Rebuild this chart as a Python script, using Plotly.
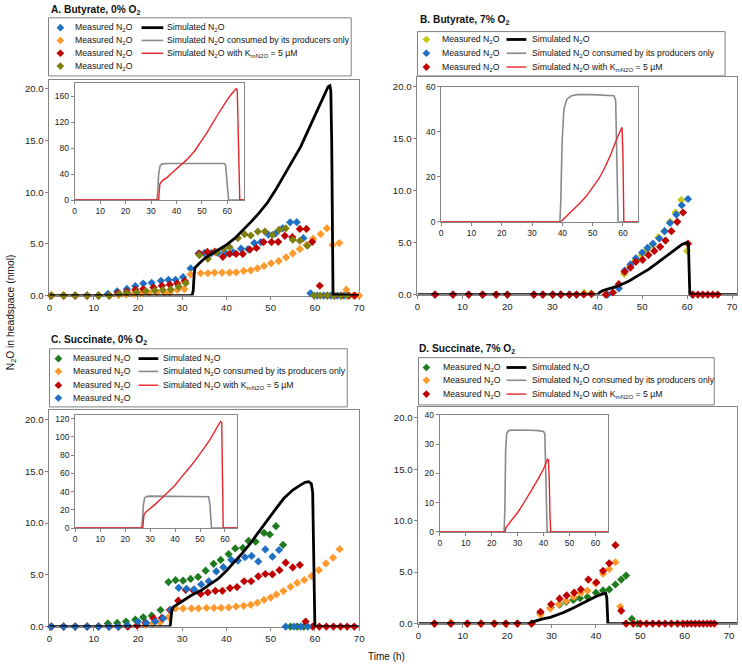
import plotly.graph_objects as go

W, H = 742, 668
FONT = "Liberation Sans, Arial, sans-serif"

# ---------------- colours ----------------
BLUE = "#1f6fc4"
ORANGE = "#ff9a2e"
DRED = "#c00000"
OLIVE = "#808010"
YELLOW = "#c8c810"
GREEN = "#1e7b1e"
GRAY = "#8a8a8a"
RED = "#e8242a"

# ================= Panel A: Butyrate, 0% O2 =================
A_blue_t = [0.4, 3.2, 5.8, 8.5, 11.1, 13.2, 15.3, 17.5, 19.4, 21.2, 23.1, 25.2, 26.9, 28.5, 30.2, 31.9, 33.7, 35.0, 36.6, 38.1,
            39.8, 41.5, 43.3, 44.9, 46.3, 47.8, 49.5, 51.1, 52.7, 54.4, 55.9, 57.4, 59.0, 60.5, 62.0, 63.6, 65.1, 66.6]
A_blue_y = [0, 0, 0, 0, 0, 0.16, 0.41, 0.64, 0.92, 1.17, 1.24, 1.43, 1.52, 1.52, 1.78, 2.63, 4.06, 4.1, 4.1, 4.13,
            4.1, 4.2, 4.54, 4.5, 5.08, 5.17, 5.9, 6.0, 6.5, 7.08, 7.1, 5.55, 0.22, 0, 0, 0, 0, 0]
A_orange_t = [0.4, 3.2, 5.8, 8.5, 11.1, 13.6, 15.6, 17.3, 19.0, 20.8, 22.5, 24.3, 26.0, 27.2, 28.9, 30.5, 31.9, 34.2, 35.8, 37.3,
              39.0, 40.7, 42.2, 43.9, 45.5, 47.0, 48.5, 50.1, 51.8, 53.5, 55.0, 56.6, 58.1, 59.6, 61.3, 62.7, 64.0, 65.5, 67.1, 68.7, 70.0]
A_orange_y = [0, 0, 0, 0, 0, 0, 0.05, 0.1, 0.15, 0.2, 0.25, 0.3, 0.3, 0.32, 0.54, 0.62, 2.06, 2.16, 2.16, 2.22,
              2.22, 2.22, 2.25, 2.38, 2.44, 2.63, 2.86, 3.12, 3.34, 3.7, 4.08, 4.5, 4.9, 5.5, 5.95, 6.5, 4.9, 5.08, 0.57, 0, 0]
A_red_t = [0.4, 3.2, 5.8, 8.5, 11.1, 13.5, 15.5, 17.5, 19.4, 21.2, 23.5, 25.4, 27.2, 28.9, 30.6, 33.9, 35.7, 37.4, 39.2, 40.7,
           42.2, 43.7, 45.3, 46.8, 48.4, 50.2, 51.7, 53.2, 54.9, 56.6, 58.1, 59.4, 61.1, 62.8, 64.4, 66.0, 67.7, 69.0]
A_red_y = [0, 0, 0, 0, 0, 0, 0.25, 0.38, 0.57, 0.63, 0.79, 0.95, 1.05, 1.17, 1.4, 4.06, 4.22, 4.25, 3.75, 4.03,
           4.03, 4.03, 4.45, 4.6, 5.17, 5.17, 5.2, 5.78, 5.65, 6.45, 6.45, 5.2, 0.95, 0, 0, 0, 0, 0]
A_olive_t = [0.4, 3.2, 5.8, 8.5, 11.1, 13.5, 15.8, 17.5, 19.7, 21.8, 23.8, 25.6, 27.4, 29.2, 30.8, 33.9, 35.8, 37.7, 39.3, 40.7,
             42.6, 44.1, 45.5, 47.1, 48.7, 50.4, 51.9, 53.4, 55.0, 56.6, 58.3, 59.8, 61.2, 62.8, 64.3, 65.8, 67.3]
A_olive_y = [0, 0, 0, 0, 0, 0, 0.16, 0.25, 0.32, 0.44, 0.48, 0.54, 0.6, 0.86, 1.2, 3.9, 3.55, 4.19, 4.5, 4.7,
             5.56, 5.94, 5.81, 6.19, 6.19, 5.87, 6.35, 6.5, 5.4, 5.3, 4.83, 0, 0, 0, 0, 0, 0]
A_sim_t = [0, 31.8, 32.3, 32.5, 32.7, 32.9, 33.6, 35.1, 36.5, 38.1, 40.0, 41.8, 43.7, 45.5, 47.4, 49.3, 51.1, 53.0, 54.9, 56.8,
           58.6, 60.5, 61.5, 62.4, 63.0, 63.4, 63.6, 63.8, 63.95, 64.1, 70]
A_sim_y = [0, 0, 0.1, 0.5, 2.0, 2.7, 3.0, 3.6, 4.0, 4.4, 4.9, 5.5, 6.3, 7.1, 8.0, 9.0, 10.2, 11.6, 13.0, 14.4,
           16.1, 17.9, 18.9, 19.8, 20.2, 20.3, 19.8, 15.0, 5.0, 0.1, 0]
A_prod_t = [0, 32.3, 32.6, 33.0, 33.5, 34.2, 36.0, 45.0, 55.0, 58.8, 59.3, 59.7, 60.1, 60.5, 66.6]
A_prod_y = [0, 0, 10, 40, 52, 55.5, 56.5, 56.8, 56.8, 56.5, 54, 35, 5, 0, 0]
A_km_t = [0, 33.0, 33.2, 33.5, 34.5, 36.4, 38.5, 41.6, 44.0, 47.0, 49.4, 52.0, 55.8, 58.0, 60.0, 61.5, 62.8, 63.5, 63.9, 64.2,
          64.5, 64.9, 66.6]
A_km_y = [0, 0, 12, 25, 30, 35, 43, 53, 62, 75, 89, 104, 129, 143, 155, 163, 170, 172, 170, 120, 40, 0, 0]

# ================= Panel B: Butyrate, 7% O2 =================
B_early_t = [3.9, 7.9, 11.4, 14.5, 17.5, 20.0, 25.9, 27.9, 30.1, 31.9, 33.8, 35.4]
B_yellow_t = B_early_t + [37.1, 38.7, 46.0, 47.3, 48.5, 49.9, 51.1, 52.4, 53.6, 54.9, 56.2, 57.4, 58.7, 60.0, 61.2]
B_yellow_y = [0] * 12 + [0.15, 0.1, 2.0, 2.7, 3.3, 3.8, 4.3, 4.8, 5.5, 6.1, 7.0, 7.9, 9.1, 4.2, 0]
B_blue_t = B_early_t + [42.3, 44.8, 46.1, 47.4, 48.6, 50.0, 51.2, 52.4, 53.8, 55.0, 56.2, 57.6, 58.8, 60.2, 61.2]
B_blue_y = [0] * 12 + [0, 0.6, 2.3, 2.9, 3.5, 4.05, 4.5, 4.9, 5.4, 6.1, 6.9, 7.7, 8.6, 9.2, 0]
B_red_t = B_early_t + [37.0, 38.7, 41.9, 43.5, 44.8, 46.1, 47.4, 48.6, 50.1, 51.4, 52.7, 54.0, 55.2, 56.5, 57.8, 59.1,
                       60.2, 61.3, 62.4, 63.5, 64.6, 65.7, 66.8]
B_red_y = [0] * 12 + [0.02, 0.05, 0, 0.2, 1.0, 2.2, 2.6, 3.15, 3.35, 3.8, 4.2, 4.6, 5.2, 6.1, 7.0, 7.9,
                      4.9, 0, 0, 0, 0, 0, 0]
B_sim_t = [0, 40.2, 40.5, 41.3, 42.5, 44.2, 46.0, 47.2, 48.5, 50.1, 51.5, 53.0, 54.5, 56.0, 57.5, 58.9, 59.6, 60.0, 60.3,
           60.45, 60.6, 71.1]
B_sim_y = [0, 0, 0.2, 0.4, 0.55, 0.76, 1.1, 1.34, 1.68, 2.07, 2.45, 2.93, 3.42, 3.95, 4.4, 4.84, 4.95, 5.0, 4.8,
           2.5, 0, 0]
B_prod_t = [0, 39.2, 39.5, 39.9, 40.5, 41.5, 43.0, 45.0, 50.0, 55.0, 57.0, 57.6, 57.9, 58.1, 58.4, 65]
B_prod_y = [0, 0, 10, 35, 50, 54.5, 56, 56.5, 56.5, 56.3, 56, 54, 30, 5, 0, 0]
B_km_t = [0, 39.6, 40.0, 42.0, 44.0, 46.0, 48.0, 50.0, 52.0, 54.0, 56.0, 58.0, 59.3, 59.7, 60.0, 60.3, 65]
B_km_y = [0, 0, 0.7, 3.2, 5.8, 8.5, 11.5, 15.0, 19.0, 24.0, 30.0, 37.0, 41.5, 42.0, 30.0, 0, 0]

# ================= Panel C: Succinate, 0% O2 =================
C_green_t = [0.4, 3.2, 5.8, 8.5, 11.1, 13.2, 15.3, 17.3, 19.4, 21.2, 23.1, 25.1, 26.9, 28.5, 30.2, 31.9, 33.6, 35.3, 37.1,
             38.7, 40.5, 42.0, 43.7, 45.0, 46.6, 48.5, 49.8, 51.2, 52.8, 54.5, 56.0, 57.5]
C_green_y = [0, 0, 0, 0, 0, 0.3, 0.35, 0.48, 0.67, 0.89, 1.05, 1.6, 4.3, 4.48, 4.44, 4.6, 4.8, 5.4, 6.06,
             6.44, 7.0, 7.55, 7.6, 8.28, 8.2, 9.05, 8.9, 9.7, 7.9, 0, 0, 0]
C_orange_t = [0.4, 3.2, 5.8, 8.5, 11.1, 13.5, 15.6, 17.7, 19.8, 21.7, 23.4, 25.0, 26.9, 28.5, 30.2, 32.1, 33.7, 35.5, 37.2,
              38.8, 40.5, 42.2, 43.9, 45.5, 47.0, 48.5, 50.0, 51.3, 52.9, 54.5, 56.0, 57.6, 59.2, 60.9, 62.5, 64.1, 65.6]
C_orange_y = [0, 0, 0, 0, 0, 0, 0, 0, 0.1, 0.15, 0.3, 0.4, 0.9, 1.75, 1.75, 1.75, 1.75, 1.8, 1.8,
              1.8, 1.84, 1.94, 2.0, 2.1, 2.3, 2.57, 2.8, 3.1, 3.43, 3.84, 4.22, 4.5, 4.87, 5.45, 6.1, 6.65, 7.48]
C_red_t = [0.4, 3.2, 5.8, 8.5, 11.1, 13.5, 15.6, 17.7, 19.8, 21.7, 23.5, 25.4, 27.2, 29.1, 30.8, 32.5, 34.2, 35.8, 37.5,
           39.1, 40.8, 42.4, 44.0, 45.6, 47.2, 48.8, 50.4, 52.0, 53.4, 55.0, 56.6, 57.9, 59.5, 61.0, 62.6, 64.2, 65.8,
           67.3, 68.9]
C_red_y = [0, 0, 0, 0, 0, 0, 0, 0, 0.1, 0.35, 0.8, 0.83, 1.6, 2.5, 3.55, 3.5, 3.15, 3.3, 3.45,
           3.45, 3.72, 3.82, 4.38, 4.38, 4.86, 5.08, 5.05, 5.45, 6.18, 5.72, 5.95, 0.48, 0, 0, 0, 0, 0,
           0, 0]
C_blue_t = [0.4, 3.2, 5.8, 8.5, 11.1, 13.4, 15.5, 17.6, 20.0, 21.9, 23.9, 25.7, 27.4, 29.2, 31.0, 32.7, 34.3, 36.0, 37.7,
            39.3, 41.1, 42.6, 44.2, 45.7, 47.2, 48.8, 50.4, 51.9, 53.4, 55.3, 56.8, 58.4]
C_blue_y = [0, 0, 0, 0, 0, 0, 0, 0.15, 0.48, 0.35, 0.5, 0.8, 1.6, 3.74, 3.65, 3.59, 4.07, 4.38, 5.33,
            5.74, 6.45, 6.38, 6.7, 6.83, 6.29, 7.46, 6.76, 7.4, 0, 0, 0, 0]
C_sim_t = [0, 27.0, 27.3, 27.5, 27.7, 28.0, 29.0, 30.2, 32.0, 34.3, 36.0, 38.1, 40.0, 41.8, 43.6, 45.5, 47.4, 49.3, 51.2,
           53.0, 55.0, 56.8, 57.8, 58.6, 59.2, 59.5, 59.7, 59.85, 60.0, 70]
C_sim_y = [0, 0, 0.1, 1.2, 1.7, 1.9, 2.2, 2.5, 3.0, 3.5, 4.0, 4.6, 5.4, 6.2, 7.1, 8.1, 9.2, 10.4, 11.4,
           12.4, 13.2, 13.7, 13.95, 14.0, 13.8, 13.0, 8.0, 0.5, 0, 0]
C_prod_t = [0, 26.5, 26.9, 27.3, 27.8, 28.5, 30.0, 40.0, 50.0, 53.5, 54.0, 54.3, 54.6, 65]
C_prod_y = [0, 0, 8, 25, 33, 34.5, 35, 35, 34.8, 34.3, 25, 5, 0, 0]
C_km_t = [0, 27.1, 27.3, 27.6, 28.5, 30.0, 32.0, 34.0, 36.0, 38.0, 40.0, 42.0, 44.0, 46.0, 48.0, 50.0, 52.0, 54.0, 56.0,
          57.5, 58.2, 58.7, 59.0, 59.3, 65]
C_km_y = [0, 0, 8, 15, 18, 21, 26, 31, 36, 41, 47, 54, 60, 67, 74, 81, 89, 97, 106,
          113, 117, 116, 60, 0, 0]

# ================= Panel D: Succinate, 7% O2 =================
D_early_t = [3.6, 7.3, 11.0, 14.1, 17.1, 19.7, 22.3, 25.5]
D_late_t = [46.8, 48.4, 50.0, 51.4, 52.8, 54.2, 55.6, 57.0, 58.4, 59.6, 60.6, 61.5, 62.4, 63.3, 64.2, 65.1, 65.9, 66.7]
D_green_t = D_early_t + [27.5, 29.8, 31.8, 33.3, 34.9, 36.4, 38.1, 40.0, 41.6, 43.0, 44.4, 45.7, 46.8, 48.1, 49.4]
D_green_y = [0] * 8 + [1.0, 1.55, 1.85, 2.1, 2.3, 2.46, 2.58, 3.0, 3.22, 3.32, 3.8, 4.28, 4.66, 0.45, 0]
D_orange_t = D_early_t + [27.5, 29.7, 31.6, 33.3, 35.0, 36.6, 38.1, 39.9, 41.6, 43.0, 44.4, 45.5, 46.8, 48.4, 50.0]
D_orange_y = [0, 0.1, 0, 0, 0, 0, 0, 0] + [0.87, 1.47, 1.88, 2.2, 2.6, 2.95, 3.2, 3.9, 4.85, 5.3, 5.96, 1.63, 0, 0, 0]
D_red_t = D_early_t + [27.5, 29.9, 31.8, 33.4, 35.1, 36.6, 38.3, 40.1, 41.6, 43.0, 44.4, 45.7] + D_late_t
D_red_y = [0] * 8 + [1.15, 1.88, 2.42, 2.74, 3.0, 3.32, 4.28, 4.0, 5.13, 5.86, 7.62, 1.24] + [0] * 18
D_sim_t = [0, 25.3, 25.6, 26.7, 28.0, 29.7, 31.2, 32.7, 34.2, 35.7, 37.2, 38.6, 40.0, 41.2, 41.8, 42.2, 42.45, 42.6,
           42.7, 71.8]
D_sim_y = [0, 0, 0.15, 0.3, 0.45, 0.6, 0.83, 1.08, 1.38, 1.72, 2.05, 2.36, 2.63, 2.84, 2.93, 2.96, 2.5, 0.5, 0, 0]
D_prod_t = [0, 24.8, 25.1, 25.4, 25.8, 26.5, 28.0, 30.0, 35.0, 38.0, 40.0, 40.5, 40.8, 41.1, 41.4, 65]
D_prod_y = [0, 0, 8, 28, 33.5, 34.6, 34.8, 34.7, 34.7, 34.6, 34.3, 33.5, 22, 3, 0, 0]
D_km_t = [0, 25.2, 25.5, 26.5, 28.0, 30.3, 32.0, 34.1, 36.0, 38.0, 40.0, 41.1, 41.6, 41.9, 42.2, 42.5, 42.8, 65]
D_km_y = [0, 0, 1.5, 2.6, 4.5, 7.0, 9.3, 12.6, 15.2, 18.2, 21.5, 24.0, 25.0, 24.5, 18.0, 5.0, 0, 0]

# ---------------- tick labels ----------------
MAIN_Y_TICKS = [0, 5, 10, 15, 20]
MAIN_X_TICKS = [0, 10, 20, 30, 40, 50, 60, 70]
INSET_X_TICKS = [0, 10, 20, 30, 40, 50, 60]
A_INSET_Y_TICKS = [0, 40, 80, 120, 160]
B_INSET_Y_TICKS = [0, 20, 40, 60]
C_INSET_Y_TICKS = [0, 20, 40, 60, 80, 100, 120]
D_INSET_Y_TICKS = [0, 10, 20, 30, 40]

fig = go.Figure()


def px_x(a, b):
    return [a / W, b / W]


def px_y(top, bottom):
    return [1 - bottom / H, 1 - top / H]


layout_axes = {}


def make_axes(n, xdom, ydom, xr, yr, xt, yt, inset=False):
    s = "" if n == 1 else str(n)
    fs = 8.5 if inset else 9.6
    common = dict(showgrid=False, zeroline=False, showline=True, mirror=True,
                  linecolor="#858585", linewidth=1, ticks="outside", ticklen=3,
                  tickcolor="#858585", tickfont=dict(family=FONT, size=fs, color="#222"),
                  layer="below traces", fixedrange=True)
    layout_axes["xaxis" + s] = dict(common, domain=px_x(*xdom), range=xr, tickvals=xt,
                                    anchor="y" + s)
    layout_axes["yaxis" + s] = dict(common, domain=px_y(*ydom), range=yr, tickvals=yt,
                                    anchor="x" + s,
                                    tickformat=".0f" if inset else ".1f")
    return "x" + s, "y" + s


axA = make_axes(1, (47, 360), (76, 295), [0, 70], [0, 20.86], MAIN_X_TICKS, MAIN_Y_TICKS)
axAi = make_axes(2, (72.5, 244), (79, 198), [0, 66.7], [0, 181], INSET_X_TICKS, A_INSET_Y_TICKS, True)
axB = make_axes(3, (419, 742), (73, 294), [0, 71.1], [0, 20.95], MAIN_X_TICKS, MAIN_Y_TICKS)
axBi = make_axes(4, (443, 642), (83, 220), [0, 65], [0, 60], INSET_X_TICKS, B_INSET_Y_TICKS, True)
axC = make_axes(5, (47, 360), (411, 631), [0, 70], [0, 20.95], MAIN_X_TICKS, MAIN_Y_TICKS)
axCi = make_axes(6, (73, 237), (416, 531), [0, 65], [0, 124.3], INSET_X_TICKS, C_INSET_Y_TICKS, True)
axD = make_axes(7, (420, 742), (408, 628), [0, 71.8], [0, 21.05], MAIN_X_TICKS, MAIN_Y_TICKS)
axDi = make_axes(8, (441.5, 612), (416, 535), [0, 65], [0, 40], INSET_X_TICKS, D_INSET_Y_TICKS, True)


def pts(ax, t, y, color):
    fig.add_trace(go.Scatter(x=t, y=y, mode="markers", xaxis=ax[0], yaxis=ax[1],
                             marker=dict(symbol="diamond", size=6.3, color=color, line=dict(width=0)),
                             showlegend=False, cliponaxis=False, hoverinfo="skip"))


def line(ax, t, y, color, width):
    fig.add_trace(go.Scatter(x=t, y=y, mode="lines", xaxis=ax[0], yaxis=ax[1],
                             line=dict(color=color, width=width), showlegend=False,
                             cliponaxis=False, hoverinfo="skip"))


# Panel A
pts(axA, A_blue_t, A_blue_y, BLUE)
pts(axA, A_orange_t, A_orange_y, ORANGE)
pts(axA, A_red_t, A_red_y, DRED)
pts(axA, A_olive_t, A_olive_y, OLIVE)
line(axA, A_sim_t, A_sim_y, "black", 2.8)
line(axAi, A_prod_t, A_prod_y, GRAY, 1.6)
line(axAi, A_km_t, A_km_y, RED, 1.4)
# Panel B
pts(axB, B_yellow_t, B_yellow_y, YELLOW)
pts(axB, B_blue_t, B_blue_y, BLUE)
pts(axB, B_red_t, B_red_y, DRED)
line(axB, B_sim_t, B_sim_y, "black", 2.8)
line(axBi, B_prod_t, B_prod_y, GRAY, 1.6)
line(axBi, B_km_t, B_km_y, RED, 1.4)
# Panel C
pts(axC, C_green_t, C_green_y, GREEN)
pts(axC, C_orange_t, C_orange_y, ORANGE)
pts(axC, C_red_t, C_red_y, DRED)
pts(axC, C_blue_t, C_blue_y, BLUE)
line(axC, C_sim_t, C_sim_y, "black", 2.8)
line(axCi, C_prod_t, C_prod_y, GRAY, 1.6)
line(axCi, C_km_t, C_km_y, RED, 1.4)
# Panel D
pts(axD, D_green_t, D_green_y, GREEN)
pts(axD, D_orange_t, D_orange_y, ORANGE)
pts(axD, D_red_t, D_red_y, DRED)
line(axD, D_sim_t, D_sim_y, "black", 2.8)
line(axDi, D_prod_t, D_prod_y, GRAY, 1.6)
line(axDi, D_km_t, D_km_y, RED, 1.4)

# ---------------- legends, titles ----------------
shapes = []
annotations = []
MEAS = "Measured N<sub>2</sub>O"
LINE_LABELS = ["Simulated N<sub>2</sub>O", "Simulated N<sub>2</sub>O consumed by its producers only",
               "Simulated N<sub>2</sub>O with K<sub>mN2O</sub> = 5 µM"]
LINE_STYLES = [("black", 2.8), (GRAY, 1.6), (RED, 1.4)]
LEG_FS = 8.7


def text(x, y, s, size=LEG_FS, anchor="left", bold=False, angle=0):
    annotations.append(dict(x=x / W, y=1 - y / H, xref="paper", yref="paper", text=("<b>%s</b>" % s) if bold else s,
                            showarrow=False, xanchor=anchor, yanchor="middle", textangle=angle, borderpad=0,
                            font=dict(family=FONT, size=size, color="#111")))


def legend(box, rows, mx, tx, lx0, lx1, ltx, colors):
    x0, y0, x1, y1 = box
    shapes.append(dict(type="rect", xref="paper", yref="paper", x0=x0 / W, x1=x1 / W, y0=1 - y1 / H, y1=1 - y0 / H,
                       line=dict(color="#808080", width=1), fillcolor="white", layer="below"))
    r = 3.9
    for i, c in enumerate(colors):
        yy = rows[i]
        path = "M %f %f L %f %f L %f %f L %f %f Z" % (
            (mx - r) / W, 1 - yy / H, mx / W, 1 - (yy - r) / H, (mx + r) / W, 1 - yy / H, mx / W, 1 - (yy + r) / H)
        shapes.append(dict(type="path", xref="paper", yref="paper", path=path, fillcolor=c, line=dict(width=0)))
        text(tx, yy, MEAS)
    for i, (lab, (c, w)) in enumerate(zip(LINE_LABELS, LINE_STYLES)):
        yy = rows[i]
        shapes.append(dict(type="line", xref="paper", yref="paper", x0=lx0 / W, x1=lx1 / W, y0=1 - yy / H,
                           y1=1 - yy / H, line=dict(color=c, width=w)))
        text(ltx, yy, lab)


legend((46, 13, 352, 72), [23, 36, 49, 62], 58, 72, 140, 162, 165, [BLUE, ORANGE, DRED, OLIVE])
legend((419, 27, 730, 72), [35, 49, 63], 428, 443, 509, 529, 534, [YELLOW, BLUE, DRED])
legend((47, 349, 348, 408), [359, 372, 386, 399], 56, 70, 137, 157, 161, [GREEN, ORANGE, DRED, BLUE])
legend((420, 358, 719, 406), [368, 381, 395], 428, 444, 509, 529, 534, [GREEN, ORANGE, DRED])

text(48, 6, "A. Butyrate, 0% O<sub>2</sub>", size=10.2, bold=True)
text(421, 16, "B. Butyrate, 7% O<sub>2</sub>", size=10.2, bold=True)
text(48, 341, "C. Succinate, 0% O<sub>2</sub>", size=10.2, bold=True)
text(420, 350, "D. Succinate, 7% O<sub>2</sub>", size=10.2, bold=True)
text(8, 312, "N<sub>2</sub>O in headspace (nmol)", size=10.3, anchor="center", angle=-90)
text(388, 661, "Time (h)", size=10, anchor="center")

fig.update_layout(width=W, height=H, margin=dict(l=0, r=0, t=0, b=0), paper_bgcolor="white",
                  plot_bgcolor="rgba(0,0,0,0)", showlegend=False, shapes=shapes, annotations=annotations,
                  font=dict(family=FONT), **layout_axes)

fig.write_html("out.html", config={"displayModeBar": False, "staticPlot": True},
               post_script="document.body.style.margin='0';document.body.style.padding='0';"
                           "document.body.style.overflow='hidden';")
